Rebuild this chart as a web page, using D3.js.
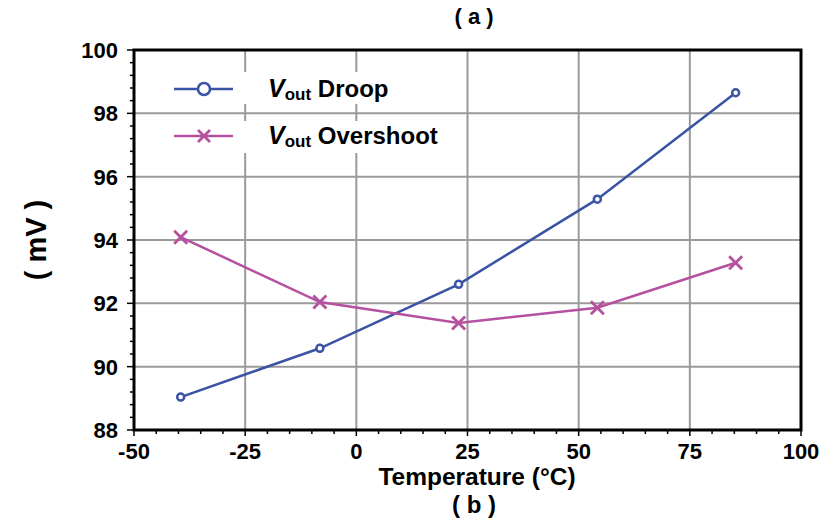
<!DOCTYPE html>
<html><head><meta charset="utf-8">
<script src="https://cdn.jsdelivr.net/npm/d3@7"></script>
<style>body{margin:0;background:#fff}svg{display:block}text{font-family:"Liberation Sans",Arial,sans-serif;font-weight:bold}</style>
</head><body><svg id="c" width="825" height="525"></svg>
<script>
const temps = [-39.5, -8.2, 23, 54.2, 85.3];
const droop = [89.04, 90.58, 92.6, 95.29, 98.65];
const overshoot = [94.09, 92.04, 91.38, 91.86, 93.28];
const xTicks = [-50, -25, 0, 25, 50, 75, 100];
const yTicks = [88, 90, 92, 94, 96, 98, 100];
const seriesNames = ["Droop", "Overshoot"];

const svg = d3.select("#c");
const L = 134, R = 801, T = 50, B = 430;
const x = d3.scaleLinear().domain([-50, 100]).range([L, R]);
const y = d3.scaleLinear().domain([88, 100]).range([B, T]);
const blue = "#3a53a4", pink = "#b5519f", grid = "#9a9a9a";

// grid
svg.append("g").selectAll("line").data(xTicks.slice(1, -1)).join("line")
  .attr("x1", d => x(d)).attr("x2", d => x(d)).attr("y1", T).attr("y2", B)
  .attr("stroke", grid).attr("stroke-width", 2);
svg.append("g").selectAll("line").data(yTicks.slice(1, -1)).join("line")
  .attr("y1", d => y(d)).attr("y2", d => y(d)).attr("x1", L).attr("x2", R)
  .attr("stroke", grid).attr("stroke-width", 2);

// legend background boxes
[0, 1].forEach(i => {
  svg.append("rect").attr("x", 160).attr("y", i === 0 ? 72 : 121).attr("width", 292).attr("height", 32).attr("fill", "#fff");
});

// minor ticks
const xMinor = d3.range(-50, 100.1, 5);
const yMinor = d3.range(88, 100.01, 0.4);
svg.append("g").selectAll("line").data(xMinor).join("line")
  .attr("x1", d => x(d)).attr("x2", d => x(d)).attr("y1", B).attr("y2", d => xTicks.includes(d) ? B + 6 : B + 4)
  .attr("stroke", "#000").attr("stroke-width", 1.5);
svg.append("g").selectAll("line").data(yMinor).join("line")
  .attr("y1", d => y(d)).attr("y2", d => y(d)).attr("x1", L).attr("x2", d => yTicks.some(t => Math.abs(t - d) < 1e-6) ? L - 7 : L - 4)
  .attr("stroke", "#000").attr("stroke-width", 1.5);

// axes frame
svg.append("rect").attr("x", L).attr("y", T).attr("width", R - L).attr("height", B - T)
  .attr("fill", "none").attr("stroke", "#000").attr("stroke-width", 3);

// tick labels
svg.append("g").selectAll("text").data(xTicks).join("text")
  .attr("x", d => x(d)).attr("y", 459).attr("text-anchor", "middle").attr("font-size", 22)
  .text(d => d);
svg.append("g").selectAll("text").data(yTicks).join("text")
  .attr("x", 118).attr("y", d => y(d) + 8).attr("text-anchor", "end").attr("font-size", 22)
  .text(d => d);

// axis titles
svg.append("text").attr("x", 477).attr("y", 485).attr("text-anchor", "middle").attr("font-size", 24.5).text("Temperature (°C)");
svg.append("text").attr("x", 474).attr("y", 513).attr("text-anchor", "middle").attr("font-size", 24).text("( b )");
svg.append("text").attr("x", 474).attr("y", 24).attr("text-anchor", "middle").attr("font-size", 22).text("( a )");
svg.append("text").attr("transform", "translate(46,240) rotate(-90)").attr("text-anchor", "middle").attr("font-size", 29).text("( mV )");

// lines
const line = d3.line().x(d => x(d[0])).y(d => y(d[1]));
const dData = temps.map((t, i) => [t, droop[i]]);
const oData = temps.map((t, i) => [t, overshoot[i]]);
svg.append("path").attr("d", line(dData)).attr("fill", "none").attr("stroke", blue).attr("stroke-width", 2.5);
svg.append("path").attr("d", line(oData)).attr("fill", "none").attr("stroke", pink).attr("stroke-width", 2.5);

svg.append("g").selectAll("circle").data(dData).join("circle")
  .attr("cx", d => x(d[0])).attr("cy", d => y(d[1])).attr("r", 3.5)
  .attr("fill", "#fff").attr("stroke", blue).attr("stroke-width", 2.5);
function cross(g, cx, cy, s, col, w) {
  g.append("path").attr("d", `M${cx - s},${cy - s}L${cx + s},${cy + s}M${cx - s},${cy + s}L${cx + s},${cy - s}`)
    .attr("stroke", col).attr("stroke-width", w).attr("fill", "none");
}
oData.forEach(d => cross(svg, x(d[0]), y(d[1]), 6.5, pink, 2.8));

// legend
const lg = svg.append("g");
[[89, blue], [136, pink]].forEach(([ly, col], i) => {
  lg.append("line").attr("x1", 174).attr("x2", 233).attr("y1", ly).attr("y2", ly).attr("stroke", col).attr("stroke-width", 2.5);
  if (i === 0) lg.append("circle").attr("cx", 204).attr("cy", ly).attr("r", 6).attr("fill", "#fff").attr("stroke", col).attr("stroke-width", 2.5);
  else cross(lg, 204, ly, 6, col, 2.8);
  const t = lg.append("text").attr("x", 268).attr("y", ly + 8).attr("font-size", 24);
  t.append("tspan").attr("font-style", "italic").attr("font-size", 25).text("V");
  t.append("tspan").attr("font-size", 17).attr("dy", 3).text("out");
  t.append("tspan").attr("dy", -3).text(" " + seriesNames[i]);
});
</script></body></html>
